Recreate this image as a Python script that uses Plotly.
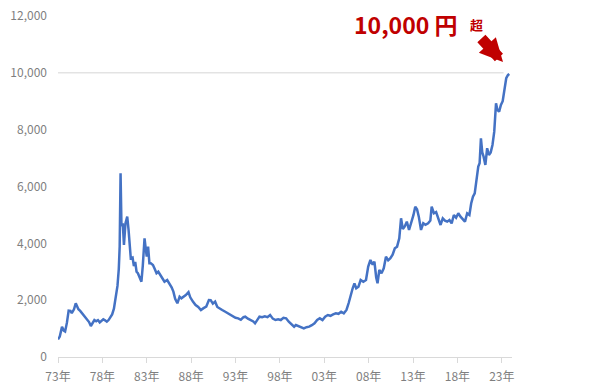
import plotly.graph_objects as go

# Gold price (yen per gram)
years = [
    1973.0, 1973.2, 1973.45, 1973.65, 1973.8, 1974.0, 1974.2, 1974.4, 1974.55, 1974.8,
    1975.0, 1975.15, 1975.3, 1975.5, 1975.7, 1975.9, 1976.1, 1976.3, 1976.5, 1976.7,
    1976.9, 1977.1, 1977.3, 1977.5, 1977.7, 1977.9, 1978.1, 1978.3, 1978.5, 1978.7,
    1978.9, 1979.1, 1979.3, 1979.5, 1979.7, 1979.85, 1979.95, 1980.05, 1980.15, 1980.3,
    1980.43, 1980.6, 1980.8, 1980.95, 1981.1, 1981.2, 1981.4, 1981.55, 1981.7, 1981.85,
    1982.0, 1982.2, 1982.4, 1982.55, 1982.75, 1982.85, 1983.0, 1983.15, 1983.3, 1983.45,
    1983.7, 1983.9, 1984.1, 1984.3, 1984.5, 1984.75, 1985.0, 1985.3, 1985.6, 1985.8,
    1986.0, 1986.2, 1986.45, 1986.7, 1986.9, 1987.1, 1987.4, 1987.7, 1987.9, 1988.2,
    1988.5, 1988.8, 1989.1, 1989.4, 1989.7, 1990.0, 1990.2, 1990.45, 1990.7, 1990.95,
    1991.2, 1991.5, 1991.8, 1992.1, 1992.4, 1992.7, 1993.0, 1993.3, 1993.6, 1993.9,
    1994.1, 1994.4, 1994.7, 1995.0, 1995.2, 1995.5, 1995.7, 1996.0, 1996.3, 1996.6,
    1996.9, 1997.2, 1997.5, 1997.8, 1998.1, 1998.4, 1998.7, 1999.0, 1999.3, 1999.6,
    1999.8, 2000.1, 2000.4, 2000.7, 2001.0, 2001.3, 2001.6, 2001.9, 2002.2, 2002.5,
    2002.8, 2003.1, 2003.4, 2003.7, 2004.0, 2004.3, 2004.6, 2004.9, 2005.2, 2005.5,
    2005.75, 2005.95, 2006.2, 2006.4, 2006.6, 2006.85, 2007.1, 2007.4, 2007.7, 2007.95,
    2008.2, 2008.45, 2008.65, 2008.85, 2009.0, 2009.2, 2009.45, 2009.7, 2009.95, 2010.2,
    2010.45, 2010.7, 2010.95, 2011.2, 2011.45, 2011.65, 2011.85, 2012.05, 2012.3, 2012.55,
    2012.8, 2013.05, 2013.25, 2013.45, 2013.65, 2013.9, 2014.15, 2014.4, 2014.7, 2014.95,
    2015.1, 2015.35, 2015.6, 2015.85, 2016.1, 2016.35, 2016.6, 2016.85, 2017.1, 2017.35,
    2017.6, 2017.85, 2018.1, 2018.35, 2018.6, 2018.85, 2019.1, 2019.35, 2019.55, 2019.75,
    2019.95, 2020.15, 2020.35, 2020.5, 2020.65, 2020.8, 2020.95, 2021.15, 2021.35, 2021.55,
    2021.75, 2021.95, 2022.15, 2022.35, 2022.5, 2022.7, 2022.9, 2023.1, 2023.3, 2023.5,
    2023.7, 2023.85,
]

prices = [
    620, 720, 1067, 930, 900, 1200, 1630, 1620, 1540, 1680,
    1890, 1760, 1680, 1620, 1540, 1450, 1380, 1300, 1230, 1091,
    1220, 1302, 1260, 1300, 1220, 1290, 1327, 1290, 1243, 1300,
    1380, 1500, 1700, 2050, 2500, 3100, 3900, 6466, 4600, 4700,
    3942, 4700, 4939, 4470, 3650, 3474, 3500, 3200, 3350, 3000,
    2946, 2800, 2650, 3200, 4178, 3900, 3530, 3883, 3300, 3298,
    3238, 3100, 2946, 3000, 2886, 2750, 2650, 2710, 2560, 2450,
    2300, 2050, 1890, 2123, 2064, 2100, 2180, 2280, 2100, 1950,
    1830, 1760, 1654, 1720, 1771, 2006, 2000, 1880, 1947, 1760,
    1700, 1654, 1600, 1540, 1478, 1430, 1380, 1361, 1310, 1400,
    1419, 1350, 1302, 1250, 1185, 1330, 1419, 1400, 1430, 1400,
    1478, 1350, 1302, 1330, 1302, 1380, 1361, 1240, 1150, 1067,
    1126, 1080, 1040, 1009, 1050, 1067, 1120, 1185, 1300, 1361,
    1302, 1420, 1478, 1450, 1500, 1537, 1520, 1595, 1537, 1654,
    1900, 2182, 2418, 2593, 2420, 2475, 2710, 2650, 2710, 3179,
    3414, 3250, 3355, 2800, 2593, 3062, 2950, 3120, 3530, 3400,
    3474, 3600, 3826, 3883, 4178, 4882, 4500, 4587, 4763, 4470,
    4700, 4998, 5291, 5200, 4939, 4470, 4706, 4650, 4706, 4800,
    5291, 5058, 5100, 4882, 4646, 4882, 4800, 4763, 4822, 4700,
    4998, 4900, 5058, 4939, 4850, 4763, 5058, 4998, 5400, 5643,
    5760, 6347, 6699, 6817, 7698, 7200, 7051, 6758, 7346, 7110,
    7200, 7462, 7931, 8930, 8700, 8634, 8870, 9000, 9500, 9810,
    9927, 9960,
]

tick_years = [1973, 1978, 1983, 1988, 1993, 1998, 2003, 2008, 2013, 2018, 2023]
tick_labels = ["73年", "78年", "83年", "88年", "93年", "98年", "03年", "08年", "13年", "18年", "23年"]
y_ticks = [0, 2000, 4000, 6000, 8000, 10000, 12000]

assert len(years) == len(prices)

FONT = "Noto Sans CJK JP"
RED = "#C00000"

fig = go.Figure()
fig.add_trace(go.Scatter(
    x=years, y=prices, mode="lines",
    line=dict(color="#4472C4", width=2.5),
    showlegend=False,
))

# single reference line at 10,000
fig.add_shape(type="line", xref="x", yref="y",
              x0=1972.45, x1=2023.2, y0=10000, y1=10000,
              line=dict(color="#E3E3E3", width=1.5), layer="below")

fig.update_layout(
    width=600, height=389,
    margin=dict(l=58, r=88, t=16, b=32, autoexpand=False),
    paper_bgcolor="white", plot_bgcolor="white",
    font=dict(family=FONT, color="#7F7F7F", size=12),
    xaxis=dict(
        range=[1973, 2024.15], automargin=False,
        tickvals=tick_years, ticktext=tick_labels,
        showgrid=False, zeroline=False,
        showline=True, linecolor="#D9D9D9", linewidth=1,
        ticks="outside", ticklen=5, tickcolor="#D9D9D9",
        ticklabelstandoff=4,
        tickfont=dict(size=12, color="#7F7F7F", family=FONT),
    ),
    yaxis=dict(
        range=[0, 12000], automargin=False,
        tickvals=y_ticks, tickformat=",d",
        showgrid=False, zeroline=False, showline=False,
        ticklabelstandoff=10,
        tickfont=dict(size=12, color="#7F7F7F", family=FONT),
    ),
    annotations=[
        dict(xref="paper", yref="paper", x=(406 - 58) / 454, y=(357 - 24) / 341,
             text="<b>10,000 円</b>", showarrow=False,
             font=dict(size=23, color=RED, family=FONT),
             xanchor="center", yanchor="middle"),
        dict(xref="paper", yref="paper", x=(476 - 58) / 454, y=(357 - 25) / 341,
             text="<b>超</b>", showarrow=False,
             font=dict(size=13, color=RED, family=FONT),
             xanchor="center", yanchor="middle"),
        dict(xref="paper", yref="paper", x=(503 - 58) / 454, y=(357 - 62) / 341,
             text="", showarrow=True, ax=-23, ay=-25,
             arrowcolor=RED, arrowwidth=11, arrowhead=2, arrowsize=0.42, standoff=0),
    ],
)

fig.write_html("out.html")
